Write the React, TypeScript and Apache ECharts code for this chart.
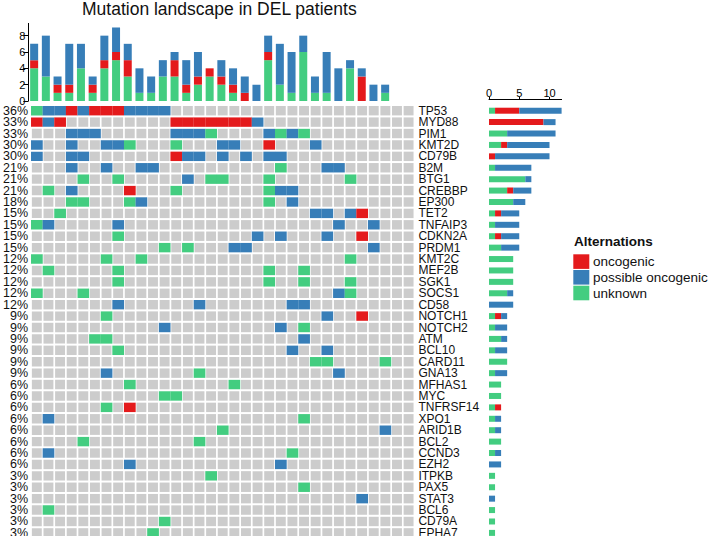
import React, { useEffect, useRef } from "react";
import * as echarts from "echarts";

// ---------- data ----------
const genes = [
  "TP53", "MYD88", "PIM1", "KMT2D", "CD79B", "B2M", "BTG1", "CREBBP", "EP300",
  "TET2", "TNFAIP3", "CDKN2A", "PRDM1", "KMT2C", "MEF2B", "SGK1", "SOCS1", "CD58",
  "NOTCH1", "NOTCH2", "ATM", "BCL10", "CARD11", "GNA13", "MFHAS1", "MYC", "TNFRSF14",
  "XPO1", "ARID1B", "BCL2", "CCND3", "EZH2", "ITPKB", "PAX5", "STAT3", "BCL6", "CD79A", "EPHA7",
];

// one string per gene, one character per patient (33 patients)
// R = oncogenic, B = possible oncogenic, G = unknown, . = none
const mutationRows = [
  "GBBRB RRRBB BB... ..... ..... ..... ...", // TP53
  "RBR.. ..... ..RRR RRRRB ..... ..... ...", // MYD88
  "...BB B.... ..BBB G.... BGBG. ..... ...", // PIM1
  "B..B. .BBG. ..G.. .BB.. R...B ..... ...", // KMT2D
  "B..BB ..... ..RBB .B.B. BB... ..... ...", // CD79B
  "...B. .B..B B.... ..... .G... BB... ...", // B2M
  "....G ..G.. ...B. GG... G.... ..G.. ...", // BTG1
  ".G.B. ...R. ..G.. ..... GBB.. ..... ...", // CREBBP
  "...GG ...GB ..... ..... G.B.. ..... ...", // EP300
  "..G.. ..... ..... ..... ....B B.BR. ...", // TET2
  "GB... ..B.. ..... ..... ..... .B..B ...", // TNFAIP3
  "..... ..G.. ..... ....B .B... B..R. ...", // CDKN2A
  "..... ..... .G.G. ..BB. ..... ....B ...", // PRDM1
  "G.... .G..G ..... ..... ..... ..G.. ...", // KMT2C
  ".G... ..G.. ..... ..... G..G. ..... ...", // MEF2B
  "..... ..G.. ..... ..... G..G. ..G.. ...", // SGK1
  "G...G ..... ..... ..... ..... .BG.. ...", // SOCS1
  "..... ..B.. ....B ..... ..BB. ..... ...", // CD58
  "..... .G... ..... ..... ..... B..R. ...", // NOTCH1
  "..... ..... .B... ..... .B.G. ..... ...", // NOTCH2
  "..... GG... ..... ..... ...B. ..... ...", // ATM
  "..... ..G.. ..... ..... ..B.. B.... ...", // BCL10
  "..... ..... ..... ..... ....G G.... G..", // CARD11
  "..... .B... ....G ..... ..... .B... ...", // GNA13
  "..... ...G. ..... ..G.. ..... ..... ...", // MFHAS1
  "..... ..... .GG.. ..... ..... ..... ...", // MYC
  "..... .G.R. ..... ..... ..... ..... ...", // TNFRSF14
  ".B... ..... ..... ..... ...G. ..... ...", // XPO1
  "..... ..... ..... .G... ..... ..... B..", // ARID1B
  "....G ..... ....G ..... ..... ..... ...", // BCL2
  ".B... ..... ..... ..... ..G.. ..... ...", // CCND3
  "..... ...B. ..... ..... .B... ..... ...", // EZH2
  "..... ..... ..... G.... ..... ..... ...", // ITPKB
  "..... ..... ..... ..... ...G. ..... ...", // PAX5
  "..... ..... ..... ..... ..... ...B. ...", // STAT3
  ".G... ..... ..... ..... ..... ..... ...", // BCL6
  "..... ..... .G... ..... ..... ..... ...", // CD79A
  "..... ..... G.... ..... ..... ..... ...", // EPHA7
];

const patientCount = 33;
const topTicks = [0, 2, 4, 6, 8];
const rightTicks = [0, 5, 10];
const legendTitle = "Alternations";
const typeCodes = ["R", "B", "G"];
const typeNames = ["oncogenic", "possible oncogenic", "unknown"];
const typeColors = ["#e41a1c", "#377eb8", "#43cd80"];
const bgColor = "#cccccc";
const titleText = "Mutation landscape in DEL patients";

// ---------- derived ----------
const matrix = mutationRows.map((s) => s.replace(/ /g, "").split(""));
const patients = Array.from({ length: patientCount }, (_, i) => String(i + 1));

const cellData: number[][] = [];
matrix.forEach((row, r) => {
  row.forEach((ch, c) => {
    const k = typeCodes.indexOf(ch);
    cellData.push([c, r, k + 1]); // 0 = none
  });
});

const colCount = (code: string) =>
  patients.map((_, c) => matrix.filter((row) => row[c] === code).length);
const rowCount = (code: string) => matrix.map((row) => row.filter((ch) => ch === code).length);

const pctLabels = matrix.map(
  (row) => Math.round((row.filter((ch) => ch !== ".").length / patientCount) * 100) + "%"
);

const FONT = "'Liberation Sans', Arial, Helvetica, sans-serif";

// stacking order: unknown (bottom / left), oncogenic, possible oncogenic
const stackOrder = [2, 0, 1];

const gridLeft = 28.3;
const gridWidth = 386.1;
const mainTop = 105;
const mainHeight = 433.6;

export default function App() {
  const ref = useRef<HTMLDivElement>(null);

  useEffect(() => {
    if (!ref.current) return;
    const chart = echarts.init(ref.current, null, { renderer: "svg" });

    const topSeries = stackOrder.map((t) => ({
      type: "bar",
      name: typeNames[t],
      stack: "top",
      xAxisIndex: 0,
      yAxisIndex: 0,
      barWidth: 8,
      data: colCount(typeCodes[t]),
      itemStyle: { color: typeColors[t] },
      silent: true,
    }));

    const rightSeries = stackOrder.map((t) => ({
      type: "bar",
      name: typeNames[t] + " ",
      stack: "right",
      xAxisIndex: 2,
      yAxisIndex: 3,
      barWidth: 6,
      data: rowCount(typeCodes[t]),
      itemStyle: { color: typeColors[t] },
      silent: true,
    }));

    const option: any = {
      animation: false,
      backgroundColor: "#ffffff",
      textStyle: { fontFamily: FONT },
      title: {
        text: titleText,
        left: 82,
        top: 0,
        padding: 0,
        textStyle: { fontSize: 17.5, fontWeight: "normal", color: "#111", fontFamily: FONT, lineHeight: 17 },
      },
      grid: [
        { left: gridLeft, top: 23.4, width: gridWidth, height: 77.6 },
        { left: gridLeft, top: mainTop, width: gridWidth, height: mainHeight },
        { left: 489, top: mainTop, width: 72.6, height: mainHeight },
      ],
      xAxis: [
        { type: "category", gridIndex: 0, data: patients, show: false },
        { type: "category", gridIndex: 1, data: patients, show: false },
        {
          type: "value",
          gridIndex: 2,
          position: "top",
          min: 0,
          max: 12,
          interval: 5,
          offset: 6,
          axisLine: { show: true, lineStyle: { color: "#000", width: 1 } },
          axisTick: { show: true, length: 2, lineStyle: { color: "#000" }, customValues: rightTicks },
          axisLabel: { fontSize: 11, color: "#000", margin: 1, customValues: rightTicks, fontFamily: FONT },
          splitLine: { show: false },
        },
      ],
      yAxis: [
        {
          type: "value",
          gridIndex: 0,
          min: 0,
          max: 9.5,
          interval: 2,
          axisLine: { show: true, lineStyle: { color: "#000", width: 1 } },
          axisTick: { show: true, length: 5, lineStyle: { color: "#000" }, customValues: topTicks },
          axisLabel: { fontSize: 11, color: "#000", margin: 3, customValues: topTicks, fontFamily: FONT, lineHeight: 11 },
          splitLine: { show: false },
        },
        {
          type: "category",
          gridIndex: 1,
          data: genes,
          inverse: true,
          position: "left",
          axisLine: { show: false },
          axisTick: { show: false },
          axisLabel: {
            interval: 0,
            fontSize: 12.5,
            lineHeight: 10,
            color: "#111",
            margin: 3,
            fontFamily: FONT,
            formatter: (_v: string, i: number) => pctLabels[i],
          },
        },
        {
          type: "category",
          gridIndex: 1,
          data: genes,
          inverse: true,
          position: "right",
          axisLine: { show: false },
          axisTick: { show: false },
          axisLabel: { interval: 0, fontSize: 12, lineHeight: 10, color: "#111", margin: 4, fontFamily: FONT },
        },
        {
          type: "category",
          gridIndex: 2,
          data: genes,
          inverse: true,
          show: false,
        },
      ],
      series: [
        ...topSeries,
        {
          type: "custom",
          xAxisIndex: 1,
          yAxisIndex: 1,
          silent: true,
          encode: { x: 0, y: 1 },
          data: cellData,
          renderItem: (_params: any, api: any) => {
            const c = api.value(0);
            const r = api.value(1);
            const k = api.value(2);
            const pt = api.coord([c, r]);
            const sz = api.size([1, 1]);
            const w = sz[0];
            const h = sz[1];
            if (!k) {
              return {
                type: "rect",
                shape: { x: pt[0] - w / 2 + 0.85, y: pt[1] - h / 2 + 1, width: w - 1.7, height: h - 2 },
                style: { fill: bgColor },
              };
            }
            return {
              type: "rect",
              shape: { x: pt[0] - w / 2, y: pt[1] - h / 2 + 1, width: w + 0.1, height: h - 2 },
              style: { fill: typeColors[k - 1] },
            };
          },
        },
        ...rightSeries,
      ],
      graphic: [
        {
          type: "text",
          x: 574,
          y: 241,
          style: {
            text: legendTitle,
            fill: "#111",
            font: `bold 13.5px ${FONT}`,
            align: "left",
            verticalAlign: "middle",
            textAlign: "left",
            textVerticalAlign: "middle",
          },
        },
        ...typeNames.flatMap((name, i) => [
          {
            type: "rect",
            shape: { x: 573.3, y: 254.3 + i * 15.7, width: 16, height: 14.6 },
            style: { fill: typeColors[i] },
          },
          {
            type: "text",
            x: 593,
            y: 261.6 + i * 15.7,
            style: {
              text: name,
              fill: "#111",
              font: `13.5px ${FONT}`,
              align: "left",
              verticalAlign: "middle",
              textAlign: "left",
              textVerticalAlign: "middle",
            },
          },
        ]),
      ],
    };

    chart.setOption(option);
    return () => chart.dispose();
  }, []);

  return (
    <div
      ref={ref}
      style={{ position: "fixed", left: 0, top: 0, width: 709, height: 545, background: "#fff" }}
    />
  );
}
